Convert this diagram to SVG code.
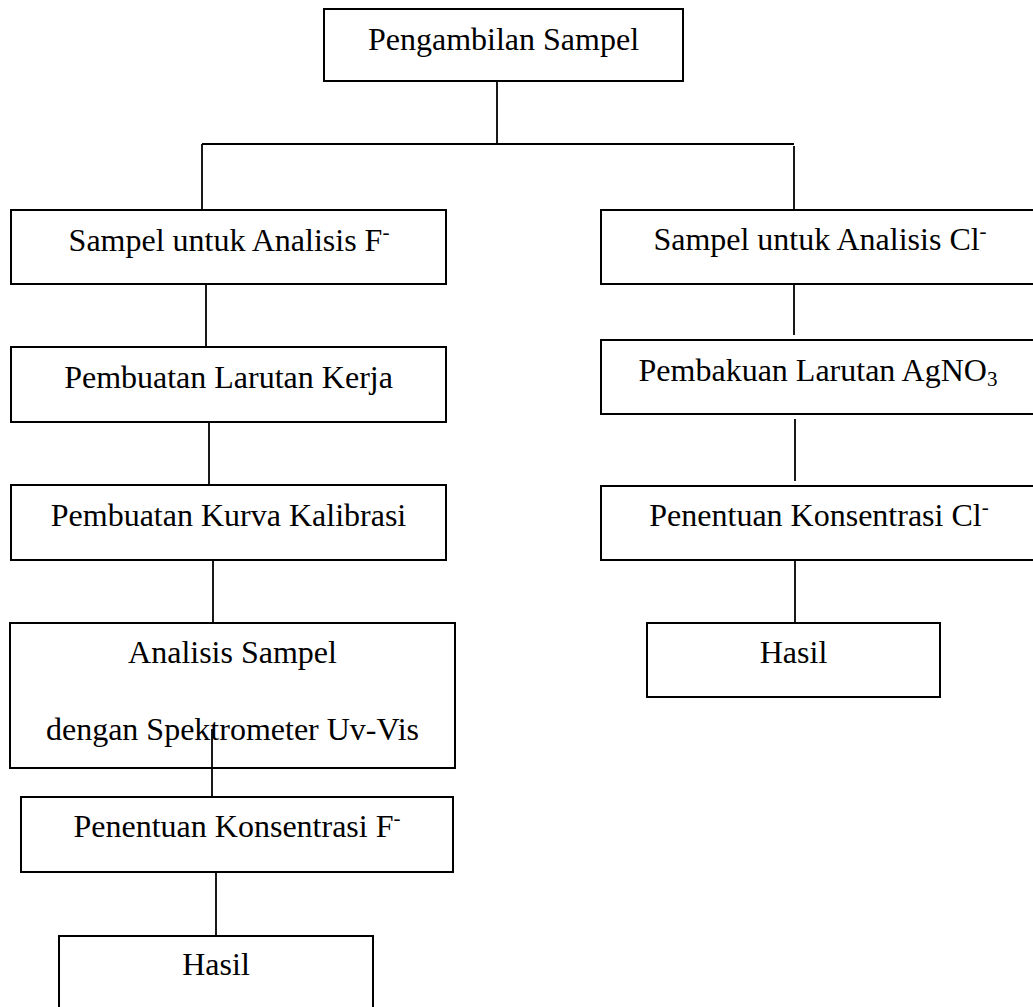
<svg xmlns="http://www.w3.org/2000/svg" width="1033" height="1007" viewBox="0 0 1033 1007">
<style>
.box{fill:#fff;stroke:#000;stroke-width:2}
.t{font-family:"Liberation Serif","Times New Roman",serif;font-size:32px;fill:#000;text-anchor:middle}
.sup{font-size:21px}
.ln{stroke:#000;stroke-width:1.8;fill:none}
</style>
<rect width="1033" height="1007" fill="#fff"/>
<g id="n-pengambilan"><rect class="box" x="324" y="9" width="359" height="72"/><text class="t" x="503.5" y="50">Pengambilan Sampel</text></g>
<g id="n-sampel-f"><rect class="box" x="11" y="210" width="435" height="74"/><text class="t" x="229" y="251">Sampel untuk Analisis F<tspan class="sup" dy="-12">-</tspan></text></g>
<g id="n-larutan-kerja"><rect class="box" x="11" y="347" width="435" height="75"/><text class="t" x="228.5" y="388">Pembuatan Larutan Kerja</text></g>
<g id="n-kurva"><rect class="box" x="11" y="485" width="435" height="75"/><text class="t" x="228.5" y="526">Pembuatan Kurva Kalibrasi</text></g>
<g id="n-analisis"><rect class="box" x="10" y="623" width="445" height="145"/><text class="t" x="232.5" y="663">Analisis Sampel</text><text class="t" x="232.5" y="740">dengan Spektrometer Uv-Vis</text></g>
<g id="n-penentuan-f"><rect class="box" x="21" y="797" width="432" height="75"/><text class="t" x="237" y="837">Penentuan Konsentrasi F<tspan class="sup" dy="-12">-</tspan></text></g>
<g id="n-hasil-f"><rect class="box" x="59" y="936" width="314" height="75"/><text class="t" x="216" y="975">Hasil</text></g>
<g id="n-sampel-cl"><rect class="box" x="601" y="210" width="437" height="74"/><text class="t" x="820" y="250">Sampel untuk Analisis Cl<tspan class="sup" dy="-12">-</tspan></text></g>
<g id="n-agno3"><rect class="box" x="601" y="340" width="437" height="74"/><text class="t" x="818" y="381">Pembakuan Larutan AgNO<tspan class="sup" dy="5">3</tspan></text></g>
<g id="n-penentuan-cl"><rect class="box" x="601" y="486" width="437" height="74"/><text class="t" x="819" y="526">Penentuan Konsentrasi Cl<tspan class="sup" dy="-12">-</tspan></text></g>
<g id="n-hasil-cl"><rect class="box" x="647" y="623" width="293" height="74"/><text class="t" x="793.5" y="663">Hasil</text></g>
<g id="connectors">
<line class="ln" x1="497" y1="81" x2="497" y2="144"/>
<line class="ln" x1="202" y1="144" x2="794" y2="144"/>
<line class="ln" x1="202" y1="144" x2="202" y2="210"/>
<line class="ln" x1="794" y1="146" x2="794" y2="210"/>
<line class="ln" x1="206" y1="284" x2="206" y2="347"/>
<line class="ln" x1="209" y1="422" x2="209" y2="485"/>
<line class="ln" x1="213" y1="560" x2="213" y2="623"/>
<line class="ln" x1="212" y1="729" x2="212" y2="797"/>
<line class="ln" x1="216" y1="872" x2="216" y2="936"/>
<line class="ln" x1="794" y1="284" x2="794" y2="335"/>
<line class="ln" x1="795" y1="419" x2="795" y2="481"/>
<line class="ln" x1="795" y1="560" x2="795" y2="623"/>
</g>
</svg>
